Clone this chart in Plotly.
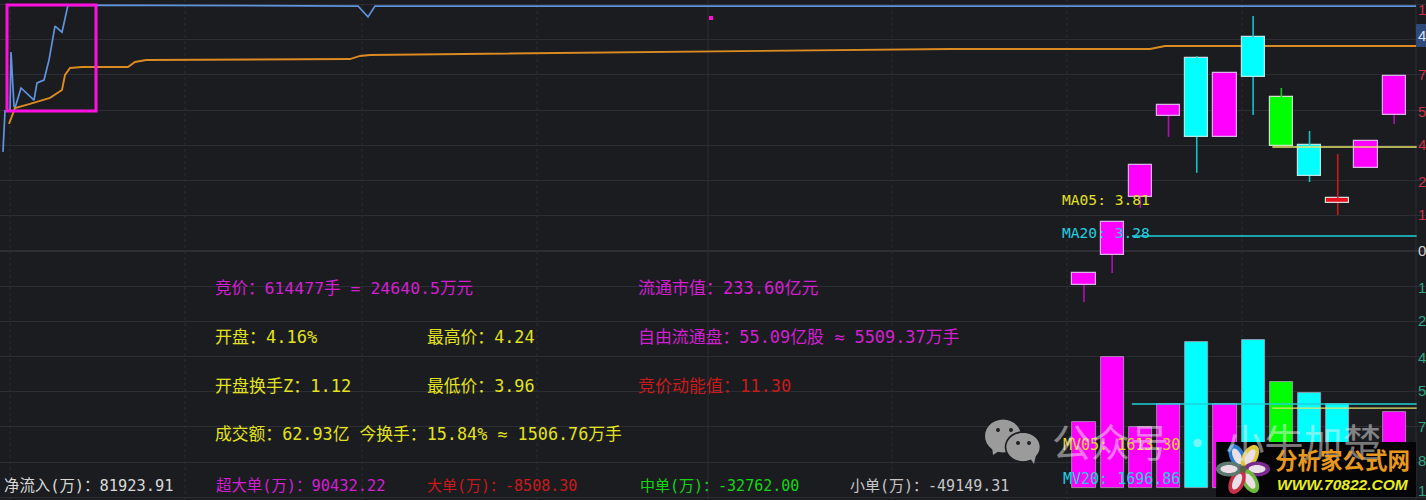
import math
import plotly.graph_objects as go

W, H = 1426, 500
BG = "#1b1c20"
GRID = "#2c2d35"
FONT = "'DejaVu Sans Mono','Noto Sans CJK SC',sans-serif"
CJK = "'Noto Sans CJK SC',sans-serif"

# Intraday lines
blue_t = [3,4,5,10,11,12,13,14,15,21,34,37,44,49,55,62,68,358,368,375,1416]
blue_v = [4.11,4.73,5.81,5.81,8.25,7.51,6.89,6.01,5.93,6.76,6.26,6.97,7.09,7.92,9.33,9.08,10.2,10.16,9.71,10.16,10.16]
orange_t = [9,12,15,30,50,62,65,70,82,128,135,146,350,360,370,950,1150,1165,1416]
orange_v = [5.27,5.64,5.93,6.10,6.35,6.68,7.30,7.59,7.63,7.63,7.84,7.92,7.96,8.09,8.13,8.38,8.38,8.50,8.50]

# Daily candles
day = list(range(12))
c_top = [-0.91,1.20,3.57,6.06,8.01,7.38,8.88,6.39,4.40,2.20,4.56,7.26]
c_bot = [-1.41,-0.17,2.24,5.60,4.73,4.73,7.22,4.36,3.11,1.99,3.44,5.64]
c_high = [-0.91,1.20,3.57,6.06,8.09,7.38,9.75,6.76,4.98,4.02,4.56,7.26]
c_low = [-2.12,-0.91,1.78,4.73,3.24,4.73,5.64,4.36,2.86,1.49,3.44,5.27]
c_color = ["#ff00ff","#ff00ff","#ff00ff","#ff00ff","#00ffff","#ff00ff","#00ffff","#00ff00","#00ffff","#e8101c","#ff00ff","#ff00ff"]
c_edge = ["#d9b3e6","#d9b3e6","#d9b3e6","#d9b3e6","#b8e6e6","#d9b3e6","#b8e6e6","#c8e6c0","#b8e6e6","#d8d8dc","#d9b3e6","#d9b3e6"]
c_wick = ["#b010b0","#b010b0","#b010b0","#b010b0","#12c4c4","#b010b0","#12c4c4","#10d010","#12c4c4","#d01818","#b010b0","#b010b0"]

# Volume
volume = [1333,2646,1232,1697,2949,1697,2990,2141,1919,1697,800,1535]
v_color = ["#ff00ff","#ff00ff","#ff00ff","#ff00ff","#00ffff","#ff00ff","#00ffff","#00ff00","#00ffff","#00ffff","#ff00ff","#ff00ff"]

# Averages
ma05_days, ma05_vals = [6.68,11.8], [4.31,4.31]
ma20_days, ma20_vals = [1.7,11.8], [0.62,0.62]
mv05_days, mv05_vals = [6.68,11.8], [1613.3,1613.3]
mv20_days, mv20_vals = [1.7,11.8], [1696.86,1696.86]

# Texts
txt = ["竞价：614477手 = 24640.5万元","开盘：4.16%","最高价：4.24","开盘换手Z：1.12","最低价：3.96",
       "成交额：62.93亿 今换手：15.84% ≈ 1506.76万手","超大单(万)：90432.22","大单(万)：-8508.30",
       "中单(万)：-32762.00","小单(万)：-49149.31","净流入(万)：81923.91","流通市值：233.60亿元",
       "自由流通盘：55.09亿股 ≈ 5509.37万手","竞价动能值：11.30","MA05: 3.81","MA20: 3.28","MV05: 1613.30","MV20: 1696.86"]
txt_x = [213,213,425,213,425,213,214,425,638,848,2,636,636,636,1060,1060,1061,1061]
txt_y = [288,337,337,386,386,434,486,486,486,486,486,288,337,386,199,233,445,479]
txt_s = [16.5,17,16.8,17,16.8,16.8,15.4,15,15,15,15.4,17,16.9,17,14.6,14.6,15,15]
MAG, YEL, RED, GRN, GRY, CYN = "#d21fd2","#e2e21e","#c91a1a","#12d612","#c6c6c6","#22cfe0"
txt_c = [MAG,YEL,YEL,YEL,YEL,YEL,MAG,RED,GRN,GRY,"#d8d8d8",MAG,MAG,RED,"#e0e020",CYN,"#e8d830",CYN]

axis_txt = ["1","7","5","4","2","1","0","1","2","4","5","7","8","1"]
axis_val = [10.0,7.3,5.8,4.4,2.9,1.5,0,-1.5,-2.9,-4.4,-5.8,-7.3,-8.7,-9.95]
axis_col = ["#c8324a"]*6+["#d0d0d0"]+["#2fa585"]*7


def fx(p): return p / W
def fy(p): return 1 - p / H

fig = go.Figure()

# candles
fig.add_trace(go.Bar(x=day, y=[t-b for t, b in zip(c_top, c_bot)], base=c_bot, width=0.82,
                     marker=dict(color=c_color, line=dict(color=c_edge, width=1.2)),
                     xaxis="x2", yaxis="y", showlegend=False))
for d, h, l, tp, bt, col in zip(day, c_high, c_low, c_top, c_bot, c_wick):
    if h > tp:
        fig.add_trace(go.Scatter(x=[d, d], y=[h, tp], mode="lines", line=dict(color=col, width=1.6),
                                 xaxis="x2", yaxis="y", showlegend=False))
    if l < bt:
        fig.add_trace(go.Scatter(x=[d, d], y=[bt, l], mode="lines", line=dict(color=col, width=1.6),
                                 xaxis="x2", yaxis="y", showlegend=False))
# volume
fig.add_trace(go.Bar(x=day, y=volume, width=0.82,
                     marker=dict(color=v_color, line=dict(color="#a9a0b8", width=0.8)),
                     xaxis="x2", yaxis="y2", showlegend=False))

for xs, ys, col, ya in [(ma20_days, ma20_vals, "#22d0d8", "y"), (ma05_days, ma05_vals, "#e4e46a", "y"),
                        (mv20_days, mv20_vals, "#22d0d8", "y2"), (mv05_days, mv05_vals, "#e4e46a", "y2")]:
    fig.add_trace(go.Scatter(x=xs, y=ys, mode="lines", line=dict(color=col, width=1.4),
                             xaxis="x2", yaxis=ya, showlegend=False))

fig.add_trace(go.Scatter(x=blue_t, y=blue_v, mode="lines", line=dict(color="#5f93dc", width=1.7),
                         xaxis="x", yaxis="y", showlegend=False))
fig.add_trace(go.Scatter(x=orange_t, y=orange_v, mode="lines", line=dict(color="#dc8a22", width=1.9),
                         xaxis="x", yaxis="y", showlegend=False))

shapes = []
# vertical grid
for vx, dash in [(10,"dot"),(185,"dot"),(362,"dot"),(537,"dot"),(708,"solid"),(892,"dot"),(1067,"dot"),(1242,"dot"),(1416,"solid")]:
    shapes.append(dict(type="line", xref="paper", yref="paper", x0=fx(vx), x1=fx(vx), y0=0, y1=1,
                       line=dict(color=GRID, width=1, dash=dash), layer="below"))
# highlight box
shapes.append(dict(type="rect", xref="paper", yref="paper", x0=fx(7), x1=fx(96), y0=fy(111), y1=fy(5),
                   line=dict(color="#ff10e0", width=3), layer="above"))
shapes.append(dict(type="rect", xref="paper", yref="paper", x0=fx(709), x1=fx(713), y0=fy(20), y1=fy(16),
                   fillcolor="#ff10d0", line=dict(width=0), layer="above"))
# axis price box
shapes.append(dict(type="rect", xref="paper", yref="paper", x0=fx(1416), x1=1, y0=fy(47), y1=fy(24),
                   fillcolor="#2f4a78", line=dict(width=0), layer="above"))


def ell(cx, cy, rx, ry, ang):
    a = math.radians(ang)
    pts = []
    for k in range(28):
        t = 2 * math.pi * k / 28
        px = cx + rx * math.cos(t) * math.cos(a) - ry * math.sin(t) * math.sin(a)
        py = cy + rx * math.cos(t) * math.sin(a) + ry * math.sin(t) * math.cos(a)
        pts.append(f"{fx(px):.5f},{fy(py):.5f}")
    return "M" + " L".join(pts) + " Z"


def blob(cx, cy, rx, ry, ang, fill, line=None, lw=0):
    shapes.append(dict(type="path", xref="paper", yref="paper", path=ell(cx, cy, rx, ry, ang),
                       fillcolor=fill, line=dict(color=line or fill, width=lw), layer="above"))


# WeChat icon
WX = "#9b9b9b"
shapes.append(dict(type="path", xref="paper", yref="paper",
                   path=f"M{fx(992)},{fy(446)} L{fx(993)},{fy(455)} L{fx(1002)},{fy(449)} Z",
                   fillcolor=WX, line=dict(width=0), layer="above"))
blob(1003, 436, 18, 16.5, 0, WX)
for dx in (998, 1011):
    blob(dx, 430, 2, 2, 0, "#23242a")
blob(1023, 447, 17.5, 15, 0, WX, BG, 1.6)
shapes.append(dict(type="path", xref="paper", yref="paper",
                   path=f"M{fx(1030)},{fy(458)} L{fx(1034)},{fy(464)} L{fx(1036)},{fy(455)} Z",
                   fillcolor=WX, line=dict(width=0), layer="above"))
for dx in (1018, 1029):
    blob(dx, 443, 2, 2, 0, "#23242a")

# logo
shapes.append(dict(type="rect", xref="paper", yref="paper", x0=fx(1216), x1=fx(1416), y0=fy(497), y1=fy(442),
                   fillcolor="#050406", line=dict(width=0), layer="above"))
petals = [(-115,"#2b7fd0"),(-60,"#e0c83a"),(0,"#7a2a8c"),(60,"#6cb83a"),(115,"#c83048"),(180,"#5e7a70")]
for ang, col in petals:
    cx = 1243 + 14 * math.cos(math.radians(ang))
    cy = 469 + 14 * math.sin(math.radians(ang))
    blob(cx, cy, 13, 7.5, ang, col)
    blob(cx, cy, 8.5, 4, ang, "#eadfe6")
blob(1243, 469, 3.5, 3.5, 0, "#5a6048")

annotations = []
for t, x, y, c, s in zip(txt, txt_x, txt_y, txt_c, txt_s):
    annotations.append(dict(xref="paper", yref="paper", x=fx(x), y=fy(y), text=t, showarrow=False,
                            xanchor="left", yanchor="middle", font=dict(family=FONT, size=s, color=c)))
for t, v, c in zip(axis_txt, axis_val, axis_col):
    annotations.append(dict(xref="paper", yref="y", x=fx(1416), y=v, text=t, showarrow=False,
                            xanchor="left", yanchor="middle", font=dict(family="Liberation Sans", size=15, color=c)))
annotations.append(dict(xref="paper", yref="paper", x=fx(1416), y=fy(35), text="4", showarrow=False,
                        xanchor="left", yanchor="middle", font=dict(family="Liberation Sans", size=15, color="#d4e0f4")))
# watermark
annotations.append(dict(xref="paper", yref="paper", x=fx(1050), y=fy(440), text="公众号 · 小牛加楚", showarrow=False,
                        xanchor="left", yanchor="middle",
                        font=dict(family=CJK, size=39, color="rgba(235,235,235,0.5)")))
# logo text
annotations.append(dict(xref="paper", yref="paper", x=fx(1273), y=fy(459), text="<b>分析家公式网</b>", showarrow=False,
                        xanchor="left", yanchor="middle", font=dict(family=CJK, size=22.5, color="#e8981f")))
annotations.append(dict(xref="paper", yref="paper", x=fx(1275), y=fy(484), text="<b><i>WWW.70822.COM</i></b>", showarrow=False,
                        xanchor="left", yanchor="middle", font=dict(family="Liberation Sans", size=15.5, color="#e6ee22")))

fig.update_layout(
    width=W, height=H, margin=dict(l=0, r=0, t=0, b=0), autosize=False,
    paper_bgcolor=BG, plot_bgcolor=BG, showlegend=False, barmode="overlay",
    bargap=0,
    xaxis=dict(range=[0, 1426], domain=[0, 1], visible=False, fixedrange=True),
    xaxis2=dict(range=[-38.44, 12.13], domain=[0, 1], overlaying="x", visible=False, fixedrange=True),
    yaxis=dict(range=[-10.33, 10.41], domain=[0, 1], tick0=0, dtick=1.46, showgrid=True, gridcolor=GRID,
               gridwidth=1, zeroline=True, zerolinecolor=GRID, showticklabels=False, ticks="", fixedrange=True),
    yaxis2=dict(range=[-242, 9858], domain=[0, 1], overlaying="y", visible=False, fixedrange=True),
    shapes=shapes, annotations=annotations,
)

fig.write_html("out.html", config=dict(displayModeBar=False),
               post_script="document.body.style.margin='0';document.body.style.background='%s';document.body.style.overflow='hidden';" % BG)
